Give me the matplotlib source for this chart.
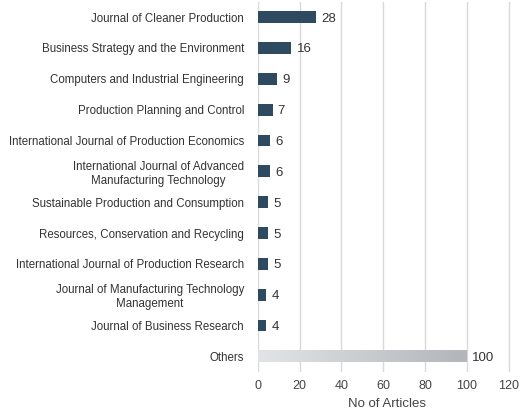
import numpy as np
import matplotlib.pyplot as plt

plt.rcParams['font.family'] = ['Liberation Sans', 'DejaVu Sans']

journals = [
    'Journal of Cleaner Production',
    'Business Strategy and the Environment',
    'Computers and Industrial Engineering',
    'Production Planning and Control',
    'International Journal of Production Economics',
    'International Journal of Advanced\nManufacturing Technology',
    'Sustainable Production and Consumption',
    'Resources, Conservation and Recycling',
    'International Journal of Production Research',
    'Journal of Manufacturing Technology\nManagement',
    'Journal of Business Research',
    'Others',
]
articles = [28, 16, 9, 7, 6, 6, 5, 5, 5, 4, 4, 100]

fig = plt.figure(figsize=(5.2, 4.16), dpi=100)
ax = fig.add_axes([0.496, 0.106, 0.498, 0.89])

y = np.arange(len(journals))
h = 0.38
colors = ['#2d4a60'] * (len(journals) - 1) + ['none']
ax.barh(y, articles, height=h, color=colors, zorder=3)

# gradient for the "Others" bar
grad = np.linspace(0, 1, 256).reshape(1, -1)
yo = y[-1]
cmap = plt.matplotlib.colors.LinearSegmentedColormap.from_list('g', ['#e2e4e6', '#b2b6ba'])
ax.imshow(grad, cmap=cmap, extent=[0, articles[-1], yo - h / 2, yo + h / 2],
          aspect='auto', zorder=3)

for yi, v in zip(y, articles):
    ax.text(v + 2.5, yi, str(v), va='center_baseline', ha='left', fontsize=9.5, color='#333333')

ax.set_xlim(0, 124)
ax.set_ylim(len(journals) - 0.5, -0.5)
ax.set_xticks(range(0, 121, 20))
ax.set_yticks(y)
ax.set_yticklabels(journals, fontsize=8.3, color='#333333', multialignment='center')
ax.tick_params(length=0, pad=10)
ax.tick_params(axis='x', labelsize=9, colors='#444444', pad=6)
ax.grid(axis='x', color='#d9d9d9', linewidth=1, zorder=0)
for s in ax.spines.values():
    s.set_visible(False)
ax.set_xlabel('No of Articles', fontsize=9.5, color='#444444', labelpad=4)

fig.savefig('out.png', dpi=100)
